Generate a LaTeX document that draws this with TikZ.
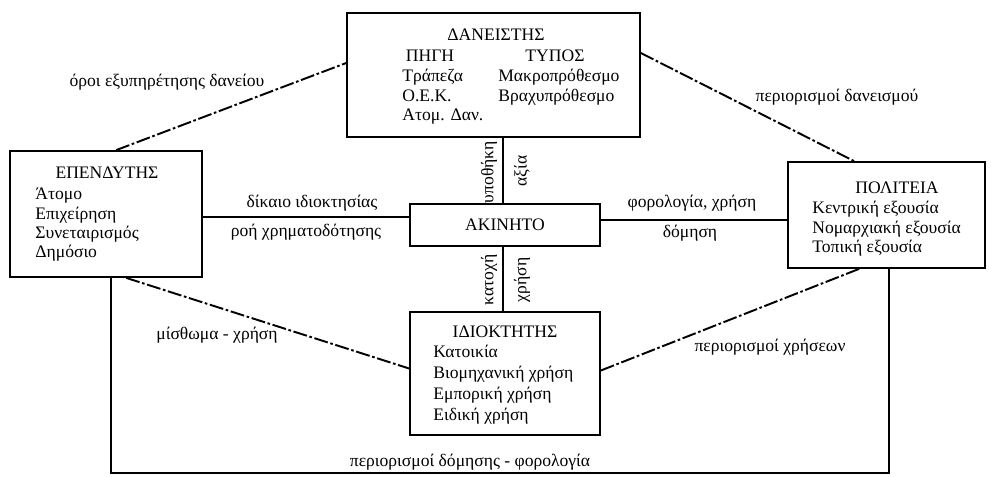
\documentclass[tikz,border=0pt]{standalone}
\usepackage{fontspec}
\setmainfont{Liberation Serif}
\usetikzlibrary{calc}

\begin{document}
\begin{tikzpicture}[x=0.02cm,y=-0.02cm,
		box/.style={draw,line width=1pt,rectangle,inner sep=0pt},
		txt/.style={inner sep=0pt,font=\fontsize{10}{11}\selectfont},
		list/.style={txt,anchor=north west,align=left},
		link/.style={line width=1pt},
		loose/.style={line width=1.1pt,dash pattern=on 8pt off 1.5pt on 1.5pt off 1.5pt}]
		\useasboundingbox (0,0) rectangle (995,477);

		% Boxes
		\node[box,minimum width=5.86cm,minimum height=2.48cm] (lender) at (493.5,75) {};
		\node[box,minimum width=3.84cm,minimum height=2.52cm] (inv) at (106,214) {};
		\node[box,minimum width=3.94cm,minimum height=2.12cm] (state) at (886.5,215) {};
		\node[box,minimum width=3.8cm,minimum height=0.84cm,txt] (prop) at (505,225) {ΑΚΙΝΗΤΟ};
		\node[box,minimum width=3.8cm,minimum height=2.46cm] (owner) at (505,373.5) {};

		% Box contents
		\node[txt] (lendert) at (496,35) {ΔΑΝΕΙΣΤΗΣ};
		\node[txt] (srct) at (430,56) {ΠΗΓΗ};
		\node[txt] (typet) at (555,56) {ΤΥΠΟΣ};
		\node[list] (srcl) at (402,69) {Τράπεζα\\Ο.Ε.Κ.\\Ατομ. Δαν.};
		\node[list] (typel) at (498,69) {Μακροπρόθεσμο\\Βραχυπρόθεσμο};

		\node[txt] (invt) at (107,173) {ΕΠΕΝΔΥΤΗΣ};
		\node[list] (invl) at (35,188) {Άτομο\\Επιχείρηση\\Συνεταιρισμός\\Δημόσιο};

		\node[txt] (statet) at (897,188) {ΠΟΛΙΤΕΙΑ};
		\node[list] (statel) at (812,201) {Κεντρική εξουσία\\Νομαρχιακή εξουσία\\Τοπική εξουσία};

		\node[txt] (ownert) at (505,332) {ΙΔΙΟΚΤΗΤΗΣ};
		\node[list,font=\fontsize{10}{12}\selectfont] (ownerl) at (433,345) {Κατοικία\\Βιομηχανική χρήση\\Εμπορική χρήση\\Ειδική χρήση};

		% Solid links
		\draw[link] ($(prop.west)+(0,-8)$) -- (inv.east |- {$(prop.west)+(0,-8)$});
		\draw[link] ($(state.west)+(0,5)$) -- (prop.east |- {$(state.west)+(0,5)$});
		\draw[link] ([xshift=-0.04cm]prop.north) -- ([xshift=-0.04cm]prop.north |- lender.south);
		\draw[link] ([xshift=-0.04cm]prop.south) -- ([xshift=-0.04cm]prop.south |- owner.north);
		\coordinate (base) at (500,473);
		\draw[link] ($(inv.south west)+(102,0)$) |- (base) -| ($(state.south west)+(102,0)$);

		% Dashed links
		\draw[loose] ($(inv.north west)+(107,0)$) -- ($(lender.west)+(0,-12)$);
		\draw[loose] ($(lender.east)+(0,-22)$) -- ($(state.north west)+(67,0)$);
		\draw[loose] ($(inv.south west)+(117,0)$) -- ($(owner.west)+(0,-5)$);
		\draw[loose] ($(owner.east)+(0,-3)$) -- ($(state.south west)+(72,0)$);

		% Link labels
		\node[txt] (loanterms) at (167,82) {όροι εξυπηρέτησης δανείου};
		\node[txt] (loanlimits) at (837,97) {περιορισμοί δανεισμού};
		\node[txt] (ownlaw) at (312,203) {δίκαιο ιδιοκτησίας};
		\node[txt] (funding) at (306,232) {ροή χρηματοδότησης};
		\node[txt] (taxuse) at (692,203) {φορολογία, χρήση};
		\node[txt] (building) at (690,233) {δόμηση};
		\node[txt] (rent) at (217,335) {μίσθωμα - χρήση};
		\node[txt] (uselimits) at (770,347) {περιορισμοί χρήσεων};
		\node[txt] (buildlimits) at (470,462) {περιορισμοί δόμησης - φορολογία};
		\node[txt,rotate=90] (mortgage) at (489,172) {υποθήκη};
		\node[txt,rotate=90] (value) at (522,171) {αξία};
		\node[txt,rotate=90] (holding) at (489,280) {κατοχή};
		\node[txt,rotate=90] (usage) at (522,280) {χρήση};
	\end{tikzpicture}
\end{document}
